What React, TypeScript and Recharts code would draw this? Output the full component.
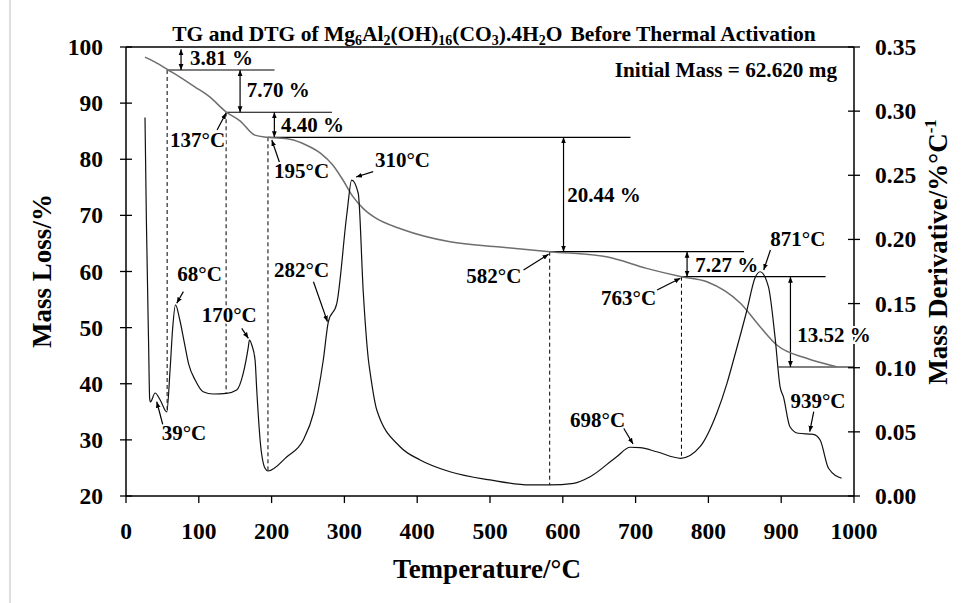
import React from 'react';
import {
  ComposedChart,
  Line,
  XAxis,
  YAxis,
  ReferenceLine,
  ReferenceDot,
} from 'recharts';

// TG curve: temperature (°C) / mass (%)
const tgTemp = [26, 40, 58, 74, 95, 115, 138, 157, 177, 195, 225, 248, 267, 284, 298, 312, 326, 340, 381, 445, 514, 582, 660, 715, 763, 798, 844, 871, 894, 935, 976];
const tgMass = [98.2, 97.3, 95.9, 94.65, 92.87, 91.1, 88.37, 86.8, 84.3, 83.91, 83.55, 82.5, 81.1, 78.97, 76.3, 73.3, 71.2, 69.76, 67.45, 65.3, 64.36, 63.53, 62.63, 60.56, 59.07, 58.17, 54.33, 50.16, 46.9, 44.53, 43.03];

// DTG curve: temperature (°C) / derivative (%/°C)
const dtgTemp = [26.1, 28, 31, 32.5, 33.5, 40, 47, 56, 60.5, 64, 68, 74, 80, 86, 95, 106, 120, 138, 152, 161, 168, 169.5, 172.8, 177.3, 179.6, 184.2, 191, 195, 221, 243.5, 257.5, 271, 278, 289.5, 303.5, 310, 319, 326, 333, 335.5, 344.5, 376.5, 404, 445, 500, 555, 582, 615, 637.5, 674, 692.5, 706, 729, 762, 788.5, 811.5, 825.5, 834.5, 853, 864, 871, 882.5, 891.5, 898.5, 903, 912, 923.5, 939, 944, 953.5, 965, 983];
const dtgVal = [0.295, 0.215, 0.12, 0.076, 0.0733, 0.0803, 0.0748, 0.0655, 0.098, 0.13, 0.149, 0.137, 0.12, 0.103, 0.0904, 0.0813, 0.0795, 0.08, 0.0826, 0.0956, 0.116, 0.1216, 0.1177, 0.106, 0.0826, 0.0437, 0.0216, 0.0195, 0.0306, 0.0437, 0.0645, 0.106, 0.1359, 0.15, 0.2204, 0.2463, 0.236, 0.158, 0.106, 0.0956, 0.067, 0.0384, 0.0281, 0.0189, 0.0125, 0.0086, 0.0086, 0.0099, 0.015, 0.0306, 0.038, 0.0377, 0.0345, 0.0294, 0.0384, 0.0645, 0.0878, 0.106, 0.145, 0.17, 0.1748, 0.163, 0.124, 0.085, 0.0774, 0.054, 0.0489, 0.0483, 0.0481, 0.0437, 0.0216, 0.0138];

const tempTicks = [0, 100, 200, 300, 400, 500, 600, 700, 800, 900, 1000];
const massTicks = [20, 30, 40, 50, 60, 70, 80, 90, 100];
const dtgTicks = [0, 0.05, 0.1, 0.15, 0.2, 0.25, 0.3, 0.35];

// annotations (data units)
const tgLevels = [
  { t1: 58, t2: 204, m: 95.9 },
  { t1: 138, t2: 283, m: 88.37 },
  { t1: 195, t2: 693, m: 83.91 },
  { t1: 582, t2: 849, m: 63.53 },
  { t1: 763, t2: 961, m: 59.07 },
  { t1: 896, t2: 1000, m: 42.98 },
];
const lossArrows = [
  { t: 75.6, m1: 99.6, m2: 95.9 },
  { t: 156.7, m1: 95.9, m2: 88.37 },
  { t: 203.8, m1: 88.37, m2: 83.91 },
  { t: 601, m1: 83.91, m2: 63.53 },
  { t: 770.7, m1: 63.53, m2: 59.07 },
  { t: 912.7, m1: 59.07, m2: 42.98 },
];
const dropLines = [
  { t: 56.5, m1: 95.9, m2: 34.97 },
  { t: 137.5, m1: 88.37, m2: 38.26 },
  { t: 195, m1: 83.91, m2: 24.45 },
  { t: 582, m1: 63.53, m2: 21.96 },
  { t: 763, m1: 59.07, m2: 26.8 },
];
const tgLabels = [
  { text: '3.81 %', t: 88, m: 96.8 },
  { text: '7.70 %', t: 166, m: 91.15 },
  { text: '4.40 %', t: 213, m: 84.9 },
  { text: '137°C', t: 60.5, m: 82.24 },
  { text: '195°C', t: 203.4, m: 76.6 },
  { text: '310°C', t: 342, m: 78.56 },
  { text: '20.44 %', t: 606, m: 72.3 },
  { text: '582°C', t: 467.4, m: 57.9 },
  { text: '763°C', t: 652.5, m: 54.03 },
  { text: '7.27 %', t: 782, m: 59.96 },
  { text: '13.52 %', t: 922, m: 47.5 },
];
const dtgLabels = [
  { text: '68°C', t: 70.5, v: 0.1678 },
  { text: '170°C', t: 104, v: 0.1359 },
  { text: '282°C', t: 203.4, v: 0.171 },
  { text: '39°C', t: 49, v: 0.04365 },
  { text: '871°C', t: 885, v: 0.1949 },
  { text: '939°C', t: 912.7, v: 0.0684 },
  { text: '698°C', t: 610, v: 0.054 },
];
const tgPointers = [
  { t1: 125.1, m1: 85.21, t2: 137.5, m2: 88.24 },
  { t1: 215.8, m1: 77.55, t2: 200.3, m2: 83.43 },
  { t1: 546.1, m1: 60.27, t2: 580.5, m2: 63.07 },
  { t1: 729.5, m1: 56.7, t2: 761.5, m2: 58.79 },
];
const dtgPointers = [
  { t1: 339.5, v1: 0.2528, t2: 316, v2: 0.2487 },
  { t1: 78.8, v1: 0.1593, t2: 69.7, v2: 0.1502 },
  { t1: 159, v1: 0.1307, t2: 168.1, v2: 0.1229 },
  { t1: 257.5, v1: 0.167, t2: 276.7, v2: 0.1359 },
  { t1: 51.3, v1: 0.054, t2: 42.2, v2: 0.0735 },
  { t1: 885.2, v1: 0.1918, t2: 876, v2: 0.1762 },
  { t1: 944.7, v1: 0.0657, t2: 939.2, v2: 0.0501 },
  { t1: 683.6, v1: 0.0528, t2: 696.5, v2: 0.0405 },
];

const tgData = tgTemp.map((T, i) => ({ T, mass: tgMass[i] }));
const dtgData = dtgTemp.map((T, i) => ({ T, dtg: dtgVal[i] }));

const FONT = '"Liberation Serif", "Times New Roman", serif';
const TICK = 6;
const LEFT_MARGIN = 17;
const RIGHT_MARGIN = 15;

const LeftTick = (p: any) => {
  const ax = p.x + TICK + LEFT_MARGIN;
  return (
    <g>
      <line x1={ax} x2={ax + TICK} y1={p.y} y2={p.y} stroke="#000" strokeWidth={1.3} />
      <text x={p.x} y={p.y} dy={8} textAnchor="end" fontFamily={FONT} fontWeight="bold" fontSize={23.5} fill="#000">
        {p.payload.value}
      </text>
    </g>
  );
};

const RightTick = (p: any) => {
  const ax = p.x - TICK - RIGHT_MARGIN;
  return (
    <g>
      <line x1={ax - TICK} x2={ax} y1={p.y} y2={p.y} stroke="#000" strokeWidth={1.3} />
      <text x={p.x} y={p.y} dy={8} textAnchor="start" fontFamily={FONT} fontWeight="bold" fontSize={23.5} fill="#000">
        {Number(p.payload.value).toFixed(2)}
      </text>
    </g>
  );
};

const arrow = (both: boolean, w = 1.2) => (p: any) => (
  <line
    x1={p.x1}
    y1={p.y1}
    x2={p.x2}
    y2={p.y2}
    stroke="#000"
    strokeWidth={w}
    markerEnd="url(#ah)"
    markerStart={both ? 'url(#ah)' : undefined}
  />
);

const label = (text: string) => (p: any) => (
  <text
    x={p.cx}
    y={p.cy}
    fontFamily={FONT}
    fontWeight="bold"
    fontSize={21}
    fill="#000"
    stroke="#fff"
    strokeWidth={4}
    paintOrder="stroke"
  >
    {text}
  </text>
);

export default function App() {
  return (
    <div style={{ position: 'absolute', left: 0, top: 0, width: 966, height: 603, background: '#fff' }}>
      <div style={{ position: 'absolute', left: 9, top: 0, width: 2, height: 603, background: '#dedede' }} />
      <ComposedChart width={966} height={603} margin={{ top: 47, right: 52, bottom: 47, left: 66 }}>
        <defs>
          <marker id="ah" viewBox="0 0 10 10" refX="10" refY="5" markerWidth="6" markerHeight="6" orient="auto-start-reverse" markerUnits="userSpaceOnUse">
            <path d="M0,1 L10,5 L0,9 z" fill="#000" />
          </marker>
        </defs>
        <XAxis
          dataKey="T"
          type="number"
          domain={[0, 1000]}
          ticks={tempTicks}
          allowDuplicatedCategory={false}
          height={60}
          tickSize={7}
          tickMargin={19}
          axisLine={{ stroke: '#000', strokeWidth: 1.5 }}
          tickLine={{ stroke: '#000', strokeWidth: 1.3 }}
          tick={{ fill: '#000', fontSize: 23.5, fontWeight: 'bold', fontFamily: FONT }}
        />
        <YAxis
          yAxisId="m"
          orientation="left"
          type="number"
          domain={[20, 100]}
          ticks={massTicks}
          width={60}
          tickSize={TICK}
          tickMargin={LEFT_MARGIN}
          axisLine={{ stroke: '#000', strokeWidth: 1.5 }}
          tickLine={{ stroke: '#000', strokeWidth: 1.3 }}
          tick={<LeftTick />}
        />
        <YAxis
          yAxisId="d"
          orientation="right"
          type="number"
          domain={[0, 0.35]}
          ticks={dtgTicks}
          width={60}
          tickSize={TICK}
          tickMargin={RIGHT_MARGIN}
          axisLine={{ stroke: '#000', strokeWidth: 1.5 }}
          tickLine={{ stroke: '#000', strokeWidth: 1.3 }}
          tick={<RightTick />}
        />

        <ReferenceLine yAxisId="m" y={100} stroke="#000" strokeWidth={1.5} />

        {tgLevels.map((l, i) => (
          <ReferenceLine
            key={'lv' + i}
            yAxisId="m"
            ifOverflow="visible"
            segment={[{ x: l.t1, y: l.m }, { x: l.t2, y: l.m }]}
            stroke="#000"
            strokeWidth={1.2}
          />
        ))}
        {dropLines.map((l, i) => (
          <ReferenceLine
            key={'dr' + i}
            yAxisId="m"
            ifOverflow="visible"
            segment={[{ x: l.t, y: l.m1 }, { x: l.t, y: l.m2 }]}
            stroke="#000"
            strokeWidth={1}
            strokeDasharray="4 3"
          />
        ))}
        {lossArrows.map((a, i) => (
          <ReferenceLine
            key={'la' + i}
            yAxisId="m"
            ifOverflow="visible"
            segment={[{ x: a.t, y: a.m1 }, { x: a.t, y: a.m2 }]}
            shape={arrow(true)}
          />
        ))}
        {tgPointers.map((a, i) => (
          <ReferenceLine
            key={'tp' + i}
            yAxisId="m"
            ifOverflow="visible"
            segment={[{ x: a.t1, y: a.m1 }, { x: a.t2, y: a.m2 }]}
            shape={arrow(false)}
          />
        ))}
        {dtgPointers.map((a, i) => (
          <ReferenceLine
            key={'dp' + i}
            yAxisId="d"
            ifOverflow="visible"
            segment={[{ x: a.t1, y: a.v1 }, { x: a.t2, y: a.v2 }]}
            shape={arrow(false)}
          />
        ))}

        <Line
          yAxisId="m"
          data={tgData}
          dataKey="mass"
          type="monotone"
          stroke="#6e6e6e"
          strokeWidth={1.5}
          dot={false}
          isAnimationActive={false}
        />
        <Line
          yAxisId="d"
          data={dtgData}
          dataKey="dtg"
          type="monotone"
          stroke="#111"
          strokeWidth={1.2}
          dot={false}
          isAnimationActive={false}
        />

        {tgLabels.map((l, i) => (
          <ReferenceDot key={'tl' + i} yAxisId="m" x={l.t} y={l.m} r={0} ifOverflow="visible" shape={label(l.text)} />
        ))}
        {dtgLabels.map((l, i) => (
          <ReferenceDot key={'dl' + i} yAxisId="d" x={l.t} y={l.v} r={0} ifOverflow="visible" shape={label(l.text)} />
        ))}
      </ComposedChart>

      <svg width={966} height={603} style={{ position: 'absolute', left: 0, top: 0, pointerEvents: 'none' }}>
        <g fontFamily={FONT} fontWeight="bold" fill="#000">
          <text x={494} y={41} textAnchor="middle" fontSize={21.5}>
            TG and DTG of Mg<tspan fontSize={14} dy={4}>6</tspan>
            <tspan dy={-4}>Al</tspan><tspan fontSize={14} dy={4}>2</tspan>
            <tspan dy={-4}>(OH)</tspan><tspan fontSize={14} dy={4}>16</tspan>
            <tspan dy={-4}>(CO</tspan><tspan fontSize={14} dy={4}>3</tspan>
            <tspan dy={-4}>).4H</tspan><tspan fontSize={14} dy={4}>2</tspan>
            <tspan dy={-4}>O</tspan>
            <tspan dx={8}>Before Thermal Activation</tspan>
          </text>
          <text x={837} y={77} textAnchor="end" fontSize={21.2}>Initial Mass = 62.620 mg</text>
          <text x={487} y={578} textAnchor="middle" fontSize={27}>Temperature/°C</text>
          <text x={51} y={271} textAnchor="middle" fontSize={27} transform="rotate(-90 51 271)">Mass Loss/%</text>
          <text x={947} y={252} textAnchor="middle" fontSize={27} transform="rotate(-90 947 252)">
            Mass Derivative/%°C<tspan fontSize={17} dy={-11}>-1</tspan>
          </text>
        </g>
      </svg>
    </div>
  );
}
